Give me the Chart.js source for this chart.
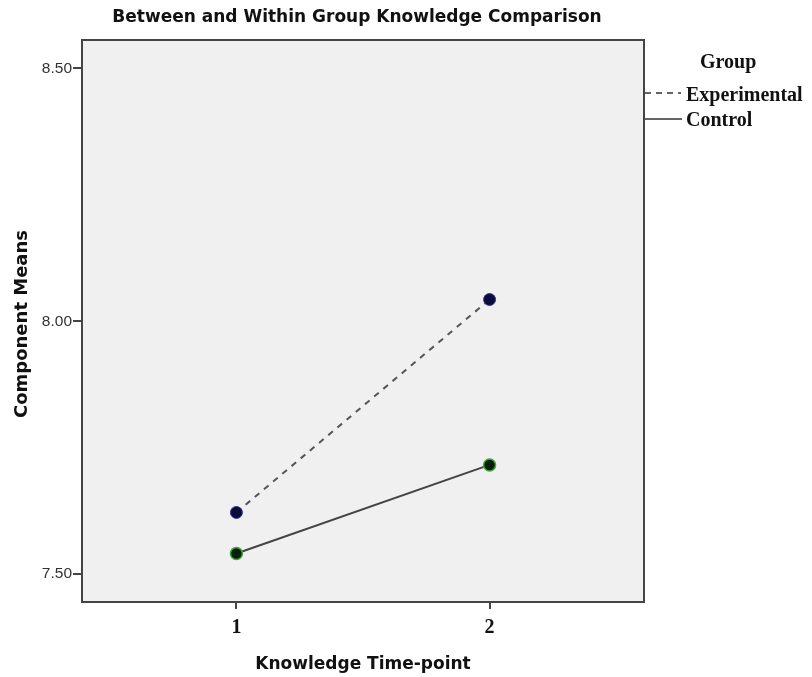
<!DOCTYPE html>
<html>
<head>
<meta charset="utf-8">
<script src="https://cdn.jsdelivr.net/npm/chart.js@4/dist/chart.umd.min.js"></script>
<style>
  html, body { margin: 0; padding: 0; background: #ffffff; }
  #wrap { width: 812px; height: 677px; }
</style>
</head>
<body>
<div id="wrap"><canvas id="c" width="812" height="677"></canvas></div>
<script>
// Knowledge time-points and group means
const timePoints = [1, 2];
const experimentalMeans = [7.622, 8.043];
const controlMeans = [7.541, 7.716];
const groupNames = ['Experimental', 'Control'];
const yTickValues = [7.5, 8.0, 8.5];
const xTickValues = [1, 2];

const chartTitle = 'Between and Within Group Knowledge Comparison';
const xTitle = 'Knowledge Time-point';
const yTitle = 'Component Means';
const legendTitle = 'Group';

const toPoints = vals => timePoints.map((t, i) => ({ x: t, y: vals[i] }));

// Grey plot panel with a frame, plus titles and the group key
const panelPlugin = {
  id: 'panel',
  beforeDraw(chart) {
    const { ctx, chartArea: a } = chart;
    ctx.save();
    ctx.fillStyle = '#f0f0f0';
    ctx.fillRect(a.left, a.top, a.right - a.left, a.bottom - a.top);
    ctx.restore();
  },
  afterDraw(chart) {
    const { ctx, chartArea: a } = chart;
    ctx.save();
    ctx.strokeStyle = '#444444';
    ctx.lineWidth = 2;
    ctx.strokeRect(a.left, a.top, a.right - a.left, a.bottom - a.top);

    ctx.fillStyle = '#111111';
    ctx.textAlign = 'center';
    ctx.textBaseline = 'middle';
    ctx.font = 'bold 17px "DejaVu Sans"';
    ctx.fillText(chartTitle, (a.left + a.right) / 2 - 6, 18);
    ctx.fillText(xTitle, (a.left + a.right) / 2, 665);

    ctx.save();
    ctx.translate(22, (a.top + a.bottom) / 2 + 3);
    ctx.rotate(-Math.PI / 2);
    ctx.font = 'bold 18px "DejaVu Sans"';
    ctx.fillText(yTitle, 0, 0);
    ctx.restore();

    // group key
    const kx = a.right + 1;
    ctx.font = 'bold 20px "Liberation Serif"';
    ctx.textAlign = 'left';
    ctx.fillText(legendTitle, 700, 63);
    ctx.fillText(groupNames[0], 686, 96);
    ctx.fillText(groupNames[1], 686, 121);

    ctx.lineWidth = 1.5;
    ctx.strokeStyle = '#333333';
    ctx.setLineDash([6, 5]);
    ctx.beginPath();
    ctx.moveTo(kx, 93);
    ctx.lineTo(kx + 36, 93);
    ctx.stroke();
    ctx.setLineDash([]);
    ctx.beginPath();
    ctx.moveTo(kx, 119);
    ctx.lineTo(kx + 37, 119);
    ctx.stroke();
    ctx.restore();
  }
};

new Chart(document.getElementById('c'), {
  type: 'scatter',
  data: {
    datasets: [
      {
        label: groupNames[0],
        data: toPoints(experimentalMeans),
        showLine: true,
        borderColor: '#555555',
        borderWidth: 2,
        borderDash: [6, 6],
        pointRadius: 6,
        pointBackgroundColor: '#0c0c3c',
        pointBorderColor: '#3a3a8a',
        pointBorderWidth: 1
      },
      {
        label: groupNames[1],
        data: toPoints(controlMeans),
        showLine: true,
        borderColor: '#444444',
        borderWidth: 2,
        pointRadius: 6,
        pointBackgroundColor: '#0a1f0a',
        pointBorderColor: '#3caa3c',
        pointBorderWidth: 1.5
      }
    ]
  },
  options: {
    responsive: false,
    animation: false,
    layout: { padding: { left: 0, right: 168, top: 40, bottom: 0 } },
    plugins: {
      legend: { display: false },
      title: { display: false },
      tooltip: { enabled: false }
    },
    scales: {
      x: {
        type: 'linear',
        min: 0.39,
        max: 2.61,
        afterBuildTicks: s => { s.ticks = xTickValues.map(v => ({ value: v })); },
        afterFit: s => { s.height = 75; },
        grid: { drawOnChartArea: false, drawTicks: true, tickLength: 7, color: '#444444', lineWidth: 2 },
        border: { display: true, color: '#444444', width: 2 },
        ticks: {
          padding: 7,
          color: '#111111',
          font: { family: '"Liberation Serif"', size: 20, weight: 'bold' },
          callback: v => String(v)
        }
      },
      y: {
        type: 'linear',
        min: 7.445,
        max: 8.556,
        afterBuildTicks: s => { s.ticks = yTickValues.map(v => ({ value: v })); },
        afterFit: s => { s.width = 82; },
        grid: { drawOnChartArea: false, drawTicks: true, tickLength: 9, color: '#444444', lineWidth: 2 },
        border: { display: true, color: '#444444', width: 2 },
        ticks: {
          padding: 1,
          color: '#333333',
          font: { family: '"Liberation Sans"', size: 15.5 },
          callback: v => v.toFixed(2)
        }
      }
    }
  },
  plugins: [panelPlugin]
});
</script>
</body>
</html>
